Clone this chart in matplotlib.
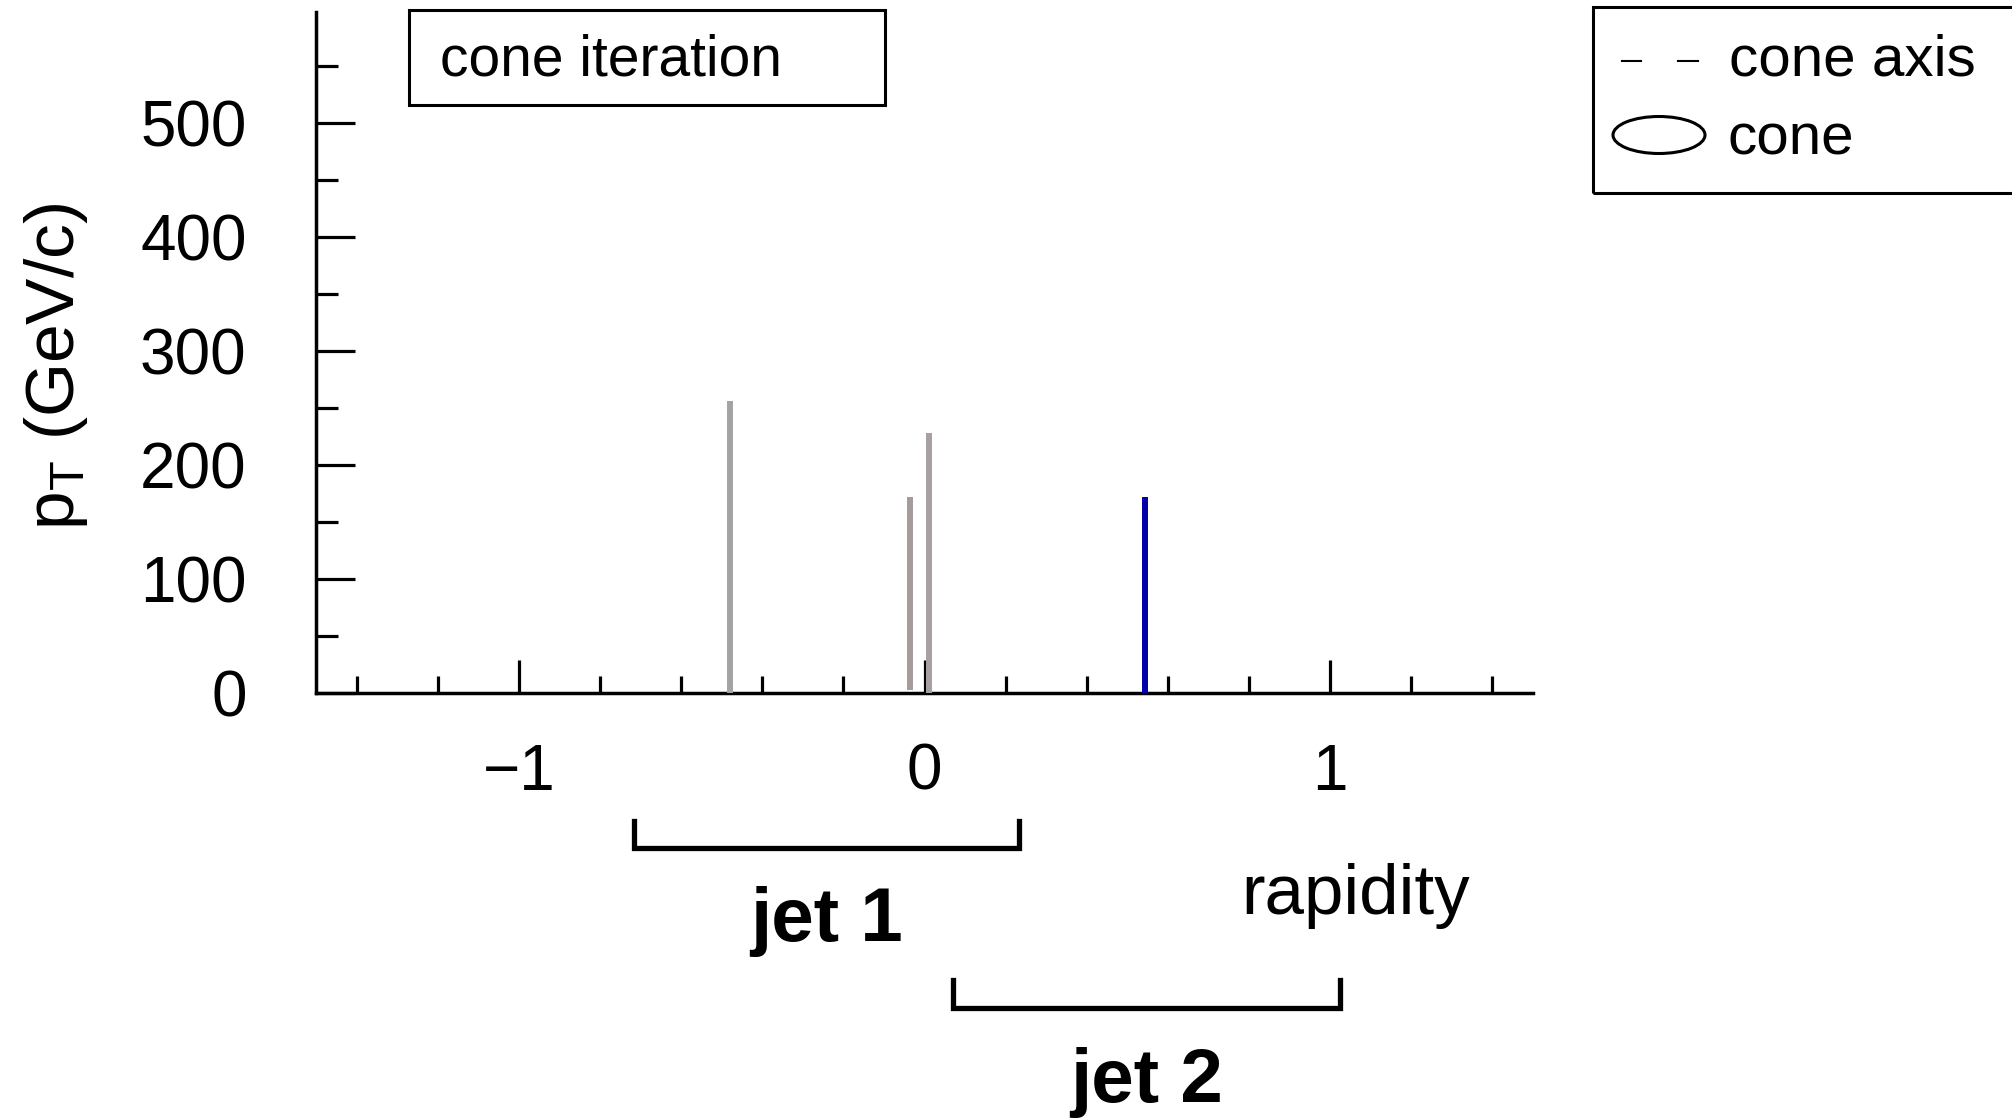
import matplotlib
matplotlib.use("Agg")
import matplotlib.pyplot as plt
import matplotlib.transforms as mtransforms
from matplotlib.patches import Ellipse, Rectangle
from matplotlib.lines import Line2D

plt.rcParams['font.family'] = ['Liberation Sans', 'DejaVu Sans']
plt.rcParams['mathtext.fontset'] = 'custom'
plt.rcParams['mathtext.rm'] = 'Liberation Sans'
plt.rcParams['mathtext.it'] = 'Liberation Sans:italic'
plt.rcParams['axes.unicode_minus'] = True

# ---- data ----
particle_rapidity = [-0.48, -0.035, 0.012, 0.544]
particle_pt = [256, 172, 228, 172]
particle_pt_base = [0, 3, 0, 0]
particle_colors = ['#a3a3a3', '#a59b9a', '#a8a0a0', '#0000a8']

jet_names = ['jet 1', 'jet 2']
jet_lo = [-0.717, 0.070]
jet_hi = [0.234, 1.024]

x_major = [-1, 0, 1]
x_minor = [-1.4, -1.2, -0.8, -0.6, -0.4, -0.2, 0.2, 0.4, 0.6, 0.8, 1.2, 1.4]
y_major = [0, 100, 200, 300, 400, 500]
y_minor = [50, 150, 250, 350, 450, 550]
x_range = [-1.5, 1.5]
y_range = [0, 597]

legend_labels = ['cone axis', 'cone']
title_text = 'cone iteration'

# ---- figure ----
W, H = 2012, 1119
fig = plt.figure(figsize=(W / 100, H / 100), dpi=100)
ax = fig.add_axes([316 / W, 1 - 693 / H, (1533 - 316) / W, (693 - 12) / H])

ax.set_xlim(*x_range)
ax.set_ylim(*y_range)
for s in ['top', 'right']:
    ax.spines[s].set_visible(False)
for s in ['left', 'bottom']:
    ax.spines[s].set_linewidth(2.5)
    ax.spines[s].set_color('black')

ax.set_xticks(x_major)
ax.set_xticklabels(['\u22121', '0', '1'])
ax.set_xticks(x_minor, minor=True)
ax.set_yticks(y_major)
ax.set_yticklabels([str(v) for v in y_major])
ax.set_yticks(y_minor, minor=True)

ax.tick_params(axis='x', which='major', direction='in', length=24, width=2.3, pad=36, labelsize=46)
ax.tick_params(axis='x', which='minor', direction='in', length=12, width=2.3)
ax.tick_params(axis='y', which='major', direction='in', length=28, width=2.3, pad=50, labelsize=46)
ax.tick_params(axis='y', which='minor', direction='in', length=16, width=2.3)

ax.set_ylabel('p$_{\\mathrm{T}}$ (GeV/c)', fontsize=50)
ax.yaxis.set_label_coords(-0.186, 0.48)

# particles
ax.vlines(particle_rapidity, particle_pt_base, particle_pt, colors=particle_colors,
          linewidth=4.3, zorder=3)

# jet brackets below axis (x in data, y in axes fraction)
trans = mtransforms.blended_transform_factory(ax.transData, ax.transAxes)
bracket_y = [(-0.188, -0.228), (-0.422, -0.462)]
label_y = [-0.335, -0.572]
for name, lo, hi, (yt, yb), ly in zip(jet_names, jet_lo, jet_hi, bracket_y, label_y):
    ax.plot([lo, lo, hi, hi], [yt, yb, yb, yt], transform=trans, color='black',
            linewidth=3.8, clip_on=False, solid_joinstyle='miter')
    ax.text((lo + hi) / 2, ly, name, transform=trans, ha='center', va='center',
            fontsize=55, fontweight='bold')

ax.text(1.062, -0.298, 'rapidity', transform=trans, ha='center', va='center', fontsize=51)

# "cone iteration" box
fig.patches.append(Rectangle((409 / W, 1 - 105 / H), (885 - 409) / W, (105 - 10) / H,
                             transform=fig.transFigure, fill=False, edgecolor='black',
                             linewidth=2.2))
fig.text(440 / W, 1 - 60 / H, title_text, ha='left', va='center', fontsize=41)

# legend box (cut at right)
fig.patches.append(Rectangle((1593 / W, 1 - 193 / H), (2030 - 1593) / W, (193 - 7) / H,
                             transform=fig.transFigure, fill=False, edgecolor='black',
                             linewidth=2.2, clip_on=False))
for x0, x1 in [(1622, 1641), (1678, 1698)]:
    fig.lines.append(Line2D([x0 / W, x1 / W], [1 - 61 / H, 1 - 61 / H],
                            transform=fig.transFigure, color='black', linewidth=1.5))
fig.text(1729 / W, 1 - 60 / H, legend_labels[0], ha='left', va='center', fontsize=42)
fig.patches.append(Ellipse((1659 / W, 1 - 135 / H), 92 / W, 37 / H,
                           transform=fig.transFigure, fill=False, edgecolor='black',
                           linewidth=2.2))
fig.text(1728 / W, 1 - 140 / H, legend_labels[1], ha='left', va='center', fontsize=42)

fig.savefig('out.png', dpi=100)
